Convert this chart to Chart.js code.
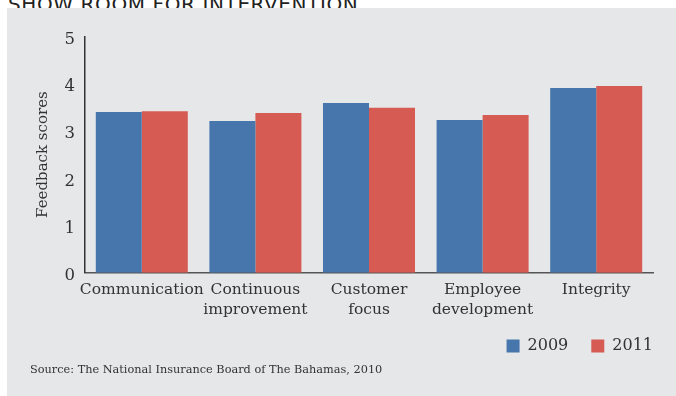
<!DOCTYPE html>
<html>
<head>
<meta charset="utf-8">
<script src="https://cdn.jsdelivr.net/npm/chart.js@4"></script>
<style>
  body { margin: 0; background: #fff; width: 676px; height: 396px; overflow: hidden; position: relative; }
  #headline { position: absolute; left: 8px; top: -8px; font-family: "DejaVu Sans", sans-serif; font-size: 20px; color: #222; white-space: nowrap; letter-spacing: 0.6px; }
  #panel { position: absolute; left: 7px; top: 8px; width: 669px; height: 388px; background: #e6e7e8; }
  #wrap { position: absolute; left: 0; top: 0; width: 669px; height: 368px; }
  #source { position: absolute; left: 23px; top: 355px; font-family: "DejaVu Serif", serif; font-size: 11.3px; color: #333; }
</style>
</head>
<body>
<div id="headline">SHOW ROOM FOR INTERVENTION</div>
<div id="panel">
  <div id="wrap"><canvas id="feedbackChart"></canvas></div>
  <div id="source">Source: The National Insurance Board of The Bahamas, 2010</div>
</div>
<script>
var categories = ["Communication", ["Continuous", "improvement"], ["Customer", "focus"], ["Employee", "development"], "Integrity"];
var scores2009 = [3.40, 3.21, 3.59, 3.23, 3.91];
var scores2011 = [3.42, 3.38, 3.49, 3.34, 3.95];
var yTicks = [0, 1, 2, 3, 4, 5];

var serif = "'DejaVu Serif', serif";
var textColor = "#333333";

// pull the legend up a little, closer to the axis labels
var legendNudge = {
    id: "legendNudge",
    afterLayout: function (chart) {
        var lg = chart.legend;
        lg.top -= 12;
        lg.bottom -= 12;
    },
};

var ctx = document.getElementById("feedbackChart").getContext("2d");
var feedbackChart = new Chart(ctx, {
    type: "bar",
    data: {
        labels: categories,
        datasets: [
            {
                label: "2009",
                data: scores2009,
                backgroundColor: "#4676ab",
                categoryPercentage: 0.81,
                barPercentage: 1.0,
            },
            {
                label: "2011",
                data: scores2011,
                backgroundColor: "#d65c53",
                categoryPercentage: 0.81,
                barPercentage: 1.0,
            },
        ],
    },
    plugins: [legendNudge],
    options: {
        responsive: true,
        maintainAspectRatio: false,
        animation: false,
        layout: {
            padding: { top: 28.5, left: 0, right: 0, bottom: 0 },
        },
        plugins: {
            legend: {
                position: "bottom",
                align: "end",
                labels: {
                    boxWidth: 13,
                    boxHeight: 13,
                    padding: 23,
                    color: textColor,
                    font: { family: serif, size: 16 },
                },
            },
            tooltip: { enabled: false },
        },
        scales: {
            x: {
                grid: { display: false, drawTicks: false },
                border: { display: true, color: "#555555", width: 1.5 },
                ticks: {
                    color: textColor,
                    padding: 7,
                    maxRotation: 0,
                    autoSkip: false,
                    font: { family: serif, size: 15.5, lineHeight: 1.3 },
                },
            },
            y: {
                min: 0,
                max: 5,
                afterBuildTicks: function (scale) {
                    scale.ticks = yTicks.map(function (v) { return { value: v }; });
                },
                grid: { display: false, drawTicks: false },
                border: { display: true, color: "#333333", width: 1.5 },
                ticks: {
                    color: textColor,
                    padding: 10,
                    labelOffset: 3,
                    font: { family: serif, size: 16.5 },
                },
                title: {
                    display: true,
                    text: "Feedback scores",
                    color: textColor,
                    padding: { top: 27, bottom: 0 },
                    font: { family: serif, size: 15 },
                },
                afterFit: function (scale) {
                    scale.width = 78;
                },
            },
            // invisible spacer on the right so the legend can reach the panel edge
            spacer: {
                type: "linear",
                position: "right",
                display: true,
                grid: { display: false, drawTicks: false },
                border: { display: false },
                ticks: { display: false },
                afterFit: function (scale) {
                    scale.width = 23;
                },
            },
        },
    },
});
</script>
</body>
</html>
